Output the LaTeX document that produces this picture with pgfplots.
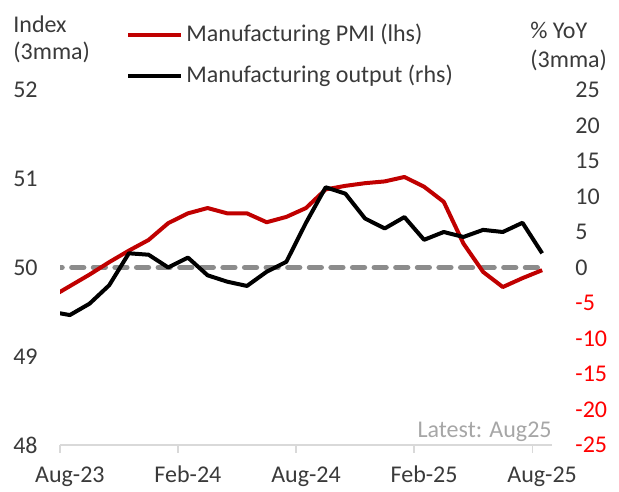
\documentclass[border=0pt]{standalone}
\usepackage{pgfplots}
\pgfplotsset{compat=1.18}
\usepackage{pgfplotstable}
\usepackage{fontspec}
\setmainfont{Carlito}
\definecolor{pmired}{HTML}{C00000}
\definecolor{negred}{HTML}{FF0000}
\definecolor{txt}{HTML}{3A3A3A}
\definecolor{dashgray}{HTML}{8C8C8C}
\definecolor{axgray}{HTML}{D9D9D9}
\definecolor{latest}{HTML}{A6A6A6}

\pgfplotstableread{
i pmi
-1 49.66
0 49.79
1 49.92
2 50.06
3 50.19
4 50.31
5 50.50
6 50.61
7 50.67
8 50.61
9 50.61
10 50.51
11 50.57
12 50.67
13 50.88
14 50.92
15 50.95
16 50.97
17 51.02
18 50.91
19 50.74
20 50.27
21 49.95
22 49.78
23 49.88
24 49.97
}\pmidata

\pgfplotstableread{
i out
-1 -6.2
0 -6.7
1 -5.1
2 -2.5
3 2.0
4 1.8
5 0.0
6 1.4
7 -1.1
8 -2.0
9 -2.6
10 -0.6
11 0.8
12 6.3
13 11.3
14 10.4
15 6.9
16 5.5
17 7.1
18 3.9
19 5.0
20 4.3
21 5.3
22 5.0
23 6.3
24 2.0
}\outdata

\pgfplotstableread{
i ref
-1 50
24 50
}\refdata

\begin{document}
\fontsize{12}{14}\selectfont
\begin{tikzpicture}
\path[use as bounding box] (0,0) rectangle (309.5pt,245.5pt);

\begin{axis}[
  at={(30pt,23pt)}, anchor=south west,
  scale only axis, width=246pt, height=177.5pt,
  xmin=-0.5, xmax=24.5, ymin=48, ymax=52,
  axis x line*=bottom, axis y line*=left,
  x axis line style={draw=axgray, line width=0.75pt, -},
  y axis line style={draw=none},
  xtick={0,6,12,18,24},
  xticklabels={Aug-23,Feb-24,Aug-24,Feb-25,Aug-25},
  minor xtick={-0.5,5.5,11.5,17.5,23.5},
  xtick pos=bottom, ytick pos=left,
  major tick length=0pt, minor tick length=4pt, tick align=outside,
  minor x tick style={draw=axgray, line width=0.75pt},
  ytick={48,49,50,51,52},
  yticklabels={48,49,50,51,52},
  xticklabel style={font=\fontsize{12}{14}\selectfont, text=txt, inner sep=0pt, anchor=base, yshift=-18.5pt},
  yticklabel style={font=\fontsize{12}{14}\selectfont, text=txt, inner sep=0pt, anchor=east, xshift=-11pt},
  clip=true,
]
\addplot[dashgray, line width=2.6pt, dash pattern=on 6pt off 4.8pt, line cap=round] table[x=i, y=ref] {\refdata};
\addplot[pmired, line width=2pt, line join=round] table[x=i, y=pmi] {\pmidata};
\end{axis}

\begin{axis}[
  at={(30pt,23pt)}, anchor=south west,
  scale only axis, width=246pt, height=177.5pt,
  xmin=-0.5, xmax=24.5, ymin=-25, ymax=25,
  axis x line=none,
  axis y line*=right,
  y axis line style={draw=none},
  ytick pos=right,
  major tick length=0pt,
  ytick={-25,-20,-15,-10,-5,0,5,10,15,20,25},
  yticklabels={\textcolor{negred}{-25},\textcolor{negred}{-20},\textcolor{negred}{-15},\textcolor{negred}{-10},\textcolor{negred}{-5},0,5,10,15,20,25},
  yticklabel style={font=\fontsize{12}{14}\selectfont, text=txt, inner sep=0pt, anchor=west, xshift=11.5pt},
  clip=true,
]
\addplot[black, line width=2pt, line join=round] table[x=i, y=out] {\outdata};
\end{axis}

% legend
\draw[pmired, line width=2pt] (64pt,228pt) -- (90.5pt,228pt);
\node[anchor=west, inner sep=0pt, text=txt] at (93pt,228pt) {Manufacturing PMI (lhs)};
\draw[black, line width=2pt] (64pt,207.5pt) -- (90.5pt,207.5pt);
\node[anchor=west, inner sep=0pt, text=txt] at (93pt,207.5pt) {Manufacturing output (rhs)};

% axis titles
\node[anchor=west, inner sep=0pt, text=txt] at (6.5pt,233.5pt) {Index};
\node[anchor=west, inner sep=0pt, text=txt] at (6.5pt,219.5pt) {(3mma)};
\node[anchor=west, inner sep=0pt, text=txt] at (265pt,230.5pt) {\% YoY};
\node[anchor=west, inner sep=0pt, text=txt] at (265pt,215.5pt) {(3mma)};

% note
\node[anchor=base east, inner sep=0pt, text=latest] at (276pt,26.5pt) {Latest: Aug25};
\end{tikzpicture}
\end{document}
